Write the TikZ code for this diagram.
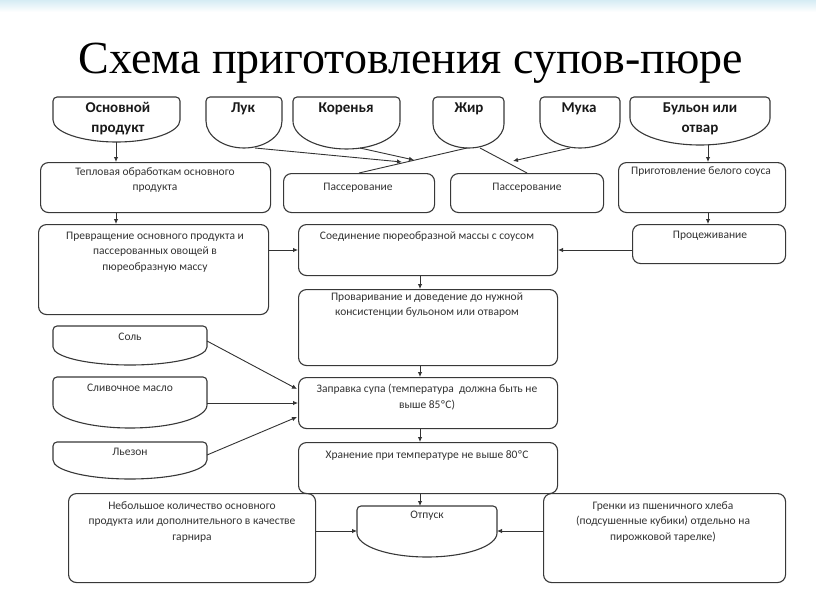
\documentclass[tikz,border=0pt]{standalone}
\usepackage{fontspec}
\setmainfont{Carlito}
\newfontfamily\titlefont{Liberation Serif}
\usetikzlibrary{arrows.meta}

\definecolor{bandblue}{RGB}{214,236,244}

\newcommand{\rbox}[5]{\node[box, minimum width=#4pt-#2pt, minimum height=#5pt-#3pt] (#1) at (#2,#3) {};}
\newcommand{\docshape}[5]{%
  \pgfmathsetmacro\dxm{(#1+#2)/2}%
  \pgfmathsetmacro\dk{0.552*(#2-#1)/2}%
  \pgfmathsetmacro\dv{#4+0.552*(#5-#4)}%
  \draw[ln] (#1,#4) [rounded corners=4pt]-- (#1,#3) -- (#2,#3) [sharp corners]-- (#2,#4)
    .. controls (#2,\dv) and (\dxm+\dk,#5) .. (\dxm,#5)
    .. controls (\dxm-\dk,#5) and (#1,\dv) .. (#1,#4) -- cycle;}

\begin{document}
\begin{tikzpicture}[x=1pt,y=-1pt,
  ln/.style={draw=black!78, line width=1.1pt},
  box/.style={ln, rounded corners=8pt, inner sep=0pt, anchor=north west},
  txt/.style={font=\fontsize{11.5}{15.5}\selectfont, text=black!80, align=center, inner sep=0pt, anchor=center},
  btxt/.style={font=\fontsize{15}{20}\selectfont\bfseries, text=black!90, align=center, inner sep=0pt, anchor=center},
  arr/.style={draw=black!80, line width=0.9pt, -{Latex[length=5pt,width=4.5pt]}},
  con/.style={draw=black!80, line width=0.9pt}
]
\useasboundingbox (0,0) rectangle (816,613);
\fill[white] (0,0) rectangle (816,613);
\shade[top color=bandblue, bottom color=white] (0,0) rectangle (816,12);

% title
\node[font=\titlefont\fontsize{46}{50}\selectfont, anchor=base, inner sep=0pt] (title) at (411,73) {Схема приготовления супов-пюре};

% top document shapes
\docshape{53}{180}{97}{120}{142}
\docshape{206}{282}{97}{121}{148}
\docshape{293}{400}{97}{121}{149}
\docshape{433}{504}{97}{124}{148}
\docshape{540}{620}{97}{122}{148}
\docshape{630}{770}{97}{118}{145}
\node[btxt] (osn) at (118,119) {Основной\\продукт};
\node[btxt] (luk) at (243,109) {Лук};
\node[btxt] (kor) at (346,109) {Коренья};
\node[btxt] (zhir) at (469,109) {Жир};
\node[btxt] (muka) at (579,109) {Мука};
\node[btxt] (bul) at (700,119) {Бульон или\\отвар};

\coordinate (osn-b) at (116,142);
\coordinate (luk-b) at (255,148);
\coordinate (kor-b) at (360,148);
\coordinate (zhir-bl) at (467,148);
\coordinate (zhir-br) at (480,148);
\coordinate (muka-b) at (570,148);
\coordinate (bul-b) at (708,145);
\coordinate (j1) at (402,162);
\coordinate (j2) at (414,160);
\coordinate (j3) at (513,161);

% boxes
\rbox{tep}{40}{162}{270}{212}
\rbox{pas1}{283}{173}{434}{212}
\rbox{pas2}{450}{173}{603}{212}
\rbox{bel}{618}{162}{785}{212}
\rbox{prev}{38}{224}{268}{314}
\rbox{soed}{298}{224}{557}{275}
\rbox{proc}{632}{224}{785}{263}
\rbox{prov}{298}{289}{557}{365}
\rbox{zapr}{298}{377}{557}{428}
\rbox{hran}{298}{442}{557}{493}
\rbox{garn}{68}{493}{315}{582}
\rbox{gren}{543}{493}{785}{582}

\node[txt] (tep-t) at (155,180) {Тепловая обработкам основного\\продукта};
\node[txt] (pas1-t) at (358,188) {Пассерование};
\node[txt] (pas2-t) at (527,188) {Пассерование};
\node[txt] (bel-t) at (701,172) {Приготовление белого соуса};
\node[txt] (prev-t) at (155,252) {Превращение основного продукта и\\пассерованных овощей в\\пюреобразную массу};
\node[txt] (soed-t) at (427,237) {Соединение пюреобразной массы с соусом};
\node[txt] (proc-t) at (710,236) {Процеживание};
\node[txt] (prov-t) at (427,305) {Проваривание и доведение до нужной\\консистенции бульоном или отваром};
\node[txt] (zapr-t) at (427,397) {Заправка супа (температура\ \ должна быть не\\выше 85ºС)};
\node[txt] (hran-t) at (427,455) {Хранение при температуре не выше 80ºС};
\node[txt] (garn-t) at (192,522) {Небольшое количество основного\\продукта или дополнительного в качестве\\гарнира};
\node[txt] (gren-t) at (663,522) {Гренки из пшеничного хлеба\\(подсушенные кубики) отдельно на\\пирожковой тарелке)};

% left small shapes
\docshape{53}{207}{326}{347}{365}
\docshape{53}{207}{377}{405}{428}
\docshape{53}{207}{442}{460}{479}
\node[txt] (sol) at (130,337) {Соль};
\node[txt] (masl) at (130,388) {Сливочное масло};
\node[txt] (lez) at (130,452) {Льезон};
\coordinate (sol-r) at (207,341);
\coordinate (masl-r) at (207,403);
\coordinate (lez-r) at (207,455);

% Отпуск
\docshape{357}{497}{506}{533}{557}
\node[txt] (otp) at (427,516) {Отпуск};
\coordinate (otp-l) at (357,531);
\coordinate (otp-r) at (497,531);

% connectors
\draw[arr] (osn-b) -- (osn-b |- tep.north);
\draw[con] (zhir-bl) -- (pas1.north);
\draw[con] (zhir-br) -- (pas2.north);
\draw[arr] (luk-b) -- (j1);
\draw[arr] (kor-b) -- (j2);
\draw[arr] (muka-b) -- (j3);
\draw[arr] (bul-b) -- (bul-b |- bel.north);
\draw[arr] (tep.south -| osn-b) -- (osn-b |- prev.north);
\draw[arr] (bel.south -| bul-b) -- (bul-b |- proc.north);
\draw[arr] (prev.east |- 0,250) -- (soed.west |- 0,250);
\draw[arr] (proc.west |- 0,250) -- (soed.east |- 0,250);
\draw[arr] (soed.south -| 420,0) -- (prov.north -| 420,0);
\draw[arr] (prov.south -| 420,0) -- (zapr.north -| 420,0);
\draw[arr] (zapr.south -| 420,0) -- (hran.north -| 420,0);
\draw[arr] (hran.south -| 420,0) -- (420,506);
\draw[arr] (sol-r) -- (297,389);
\draw[arr] (masl-r) -- (masl-r -| zapr.west);
\draw[arr] (lez-r) -- (297,417);
\draw[arr] (garn.east |- otp-l) -- (otp-l);
\draw[arr] (gren.west |- otp-r) -- (otp-r);
\end{tikzpicture}
\end{document}
